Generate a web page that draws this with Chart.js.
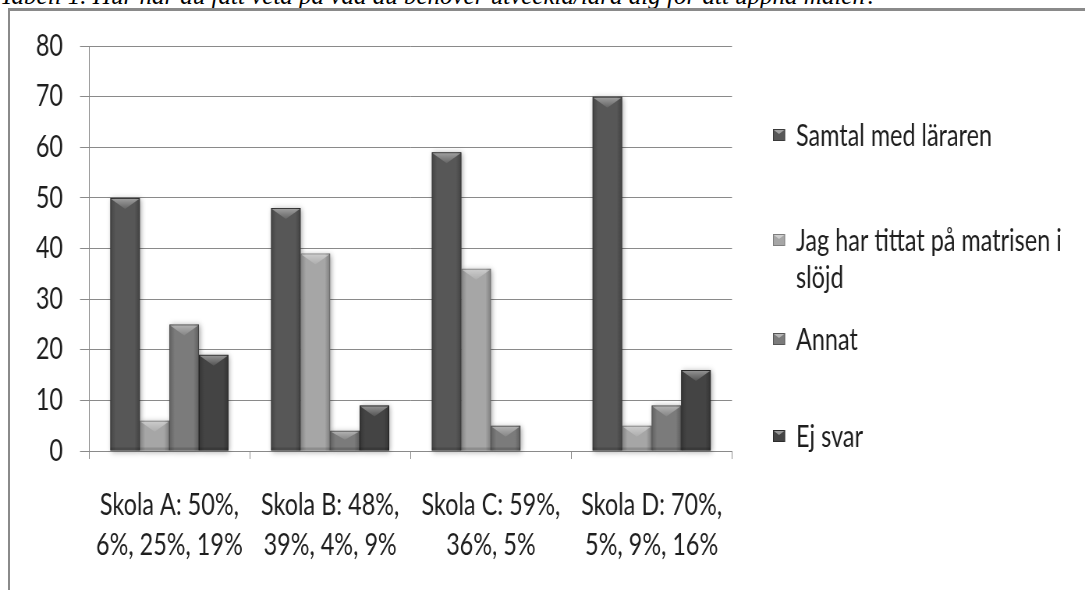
<!DOCTYPE html>
<html>
<head>
<meta charset="utf-8">
<script src="https://cdn.jsdelivr.net/npm/chart.js@4.4.1/dist/chart.umd.min.js"></script>
<style>
  html, body { margin: 0; padding: 0; background: #fff; overflow: hidden; }
  #wrap { position: relative; width: 1085px; height: 590px; overflow: hidden; background: #fff; }
  #caption {
    position: absolute; left: 0; top: -17px;
    font: italic 25px 'Liberation Serif', 'Times New Roman', serif;
    line-height: 25px; white-space: nowrap; color: #000;
  }
  #frame {
    position: absolute; left: 8px; top: 8px; width: 1200px; height: 700px;
    border-top: 3px solid #8a8a8a; border-left: 2px solid #8a8a8a;
  }
  /* the chart is drawn wide and squeezed horizontally, giving the tall narrow lettering */
  #stage { position: absolute; left: 0; top: 0; transform-origin: 0 0; }
  #c { display: block; }
</style>
</head>
<body>
<div id="wrap">
  <div id="caption">Tabell 1. Hur har du fått veta på vad du behöver utveckla/lära dig för att uppnå målen?</div>
  <div id="frame"></div>
  <div id="stage"><canvas id="c"></canvas></div>
</div>
<script>
// Category (tick) labels, one per school
const schoolLabels = [
  ['Skola A: 50%,', '6%, 25%, 19%'],
  ['Skola B: 48%,', '39%, 4%, 9%'],
  ['Skola C: 59%,', '36%, 5%'],
  ['Skola D: 70%,', '5%, 9%, 16%']
];

// Answer series (percent per school)
const seriesNames = ['Samtal med läraren', 'Jag har tittat på matrisen i slöjd', 'Annat', 'Ej svar'];
const samtalMedLararen = [50, 48, 59, 70];
const tittatPaMatrisen = [6, 39, 36, 5];
const annat = [25, 4, 5, 9];
const ejSvar = [19, 9, null, 16];

// Value axis ticks
const yTicks = [0, 10, 20, 30, 40, 50, 60, 70, 80];

// Horizontal squeeze applied to the whole chart canvas
const SX = 0.78;
const W = Math.round(1085 / SX), H = 590;
const ux = v => v / SX;   // screen px -> canvas px (horizontal)

const canvas = document.getElementById('c');
canvas.width = W; canvas.height = H;
canvas.style.width = W + 'px'; canvas.style.height = H + 'px';
document.getElementById('stage').style.transform = 'scaleX(' + (1085 / W) + ')';

const FONT = "Lato, 'Open Sans', 'Liberation Sans', sans-serif";
const fills = ['#575757', '#a6a6a6', '#7b7b7b', '#444444'];
const edges = ['#3a3a3a', '#7e7e7e', '#565656', '#2c2c2c'];

const seriesValues = [samtalMedLararen, tittatPaMatrisen, annat, ejSvar];

// Soft shadow behind each bar
const barShadow = {
  id: 'barShadow',
  beforeDatasetsDraw(chart) {
    const ctx = chart.ctx;
    chart.data.datasets.forEach((ds, i) => {
      const meta = chart.getDatasetMeta(i);
      meta.data.forEach((bar, j) => {
        if (ds.data[j] == null) return;
        const p = bar.getProps(['x', 'y', 'base', 'width'], true);
        ctx.save();
        ctx.shadowColor = 'rgba(0,0,0,0.35)';
        ctx.shadowBlur = 6;
        ctx.shadowOffsetX = 1.5;
        ctx.shadowOffsetY = 1;
        ctx.fillStyle = fills[i];
        ctx.fillRect(p.x - p.width / 2, p.y, p.width, p.base - p.y);
        ctx.restore();
      });
    });
  }
};

// Bevel shading on top of each bar
const barBevel = {
  id: 'barBevel',
  afterDatasetsDraw(chart) {
    const ctx = chart.ctx;
    chart.data.datasets.forEach((ds, i) => {
      const meta = chart.getDatasetMeta(i);
      meta.data.forEach((bar, j) => {
        if (ds.data[j] == null) return;
        const p = bar.getProps(['x', 'y', 'base', 'width'], true);
        const L = p.x - p.width / 2, R = p.x + p.width / 2, T = p.y, B = p.base;
        const w = R - L, hgt = B - T;
        ctx.save();
        // darker vertical edges
        const g = ctx.createLinearGradient(L, 0, R, 0);
        g.addColorStop(0, 'rgba(0,0,0,0.22)');
        g.addColorStop(0.18, 'rgba(0,0,0,0)');
        g.addColorStop(0.82, 'rgba(0,0,0,0)');
        g.addColorStop(1, 'rgba(0,0,0,0.25)');
        ctx.fillStyle = g;
        ctx.fillRect(L, T, w, hgt);
        // lighter chevron at the top
        const h = Math.min(11, hgt * 0.45);
        const tg = ctx.createLinearGradient(0, T, 0, T + h);
        tg.addColorStop(0, 'rgba(255,255,255,0.45)');
        tg.addColorStop(1, 'rgba(255,255,255,0.08)');
        ctx.fillStyle = tg;
        ctx.beginPath();
        ctx.moveTo(L + 1, T + 1);
        ctx.lineTo(R - 1, T + 1);
        ctx.lineTo(p.x, T + h);
        ctx.closePath();
        ctx.fill();
        // bottom shade
        ctx.fillStyle = 'rgba(0,0,0,0.15)';
        ctx.fillRect(L, B - 3, w, 3);
        ctx.restore();
      });
    });
  }
};

// Legend drawn to the right of the plot
const sideLegend = {
  id: 'sideLegend',
  afterDraw(chart) {
    const ctx = chart.ctx;
    const markerX = ux(773), markerW = ux(12), textX = ux(796), maxW = ux(288), lineH = 37;
    const rows = [135, 240, 339, 436];
    ctx.save();
    ctx.font = '30px ' + FONT;
    ctx.textBaseline = 'middle';
    chart.data.datasets.forEach((ds, i) => {
      const y = rows[i];
      // marker
      ctx.fillStyle = fills[i];
      ctx.fillRect(markerX, y - 6, markerW, 12);
      ctx.fillStyle = 'rgba(255,255,255,0.45)';
      ctx.beginPath();
      ctx.moveTo(markerX + 1, y - 5);
      ctx.lineTo(markerX + markerW - 1, y - 5);
      ctx.lineTo(markerX + markerW / 2, y - 1);
      ctx.closePath();
      ctx.fill();
      ctx.strokeStyle = edges[i];
      ctx.lineWidth = 1;
      ctx.strokeRect(markerX + 0.5, y - 5.5, markerW - 1, 11);
      // wrapped text
      const words = ds.label.split(' ');
      const lines = [];
      let cur = '';
      words.forEach(wd => {
        const t = cur ? cur + ' ' + wd : wd;
        if (ctx.measureText(t).width > maxW && cur) { lines.push(cur); cur = wd; }
        else cur = t;
      });
      lines.push(cur);
      ctx.fillStyle = '#1e1e1e';
      lines.forEach((ln, k) => ctx.fillText(ln, textX, y + 1 + k * lineH));
    });
    ctx.restore();
  }
};

new Chart(canvas, {
  type: 'bar',
  data: {
    labels: schoolLabels,
    datasets: seriesNames.map((name, i) => ({
      label: name,
      data: seriesValues[i],
      backgroundColor: fills[i],
      borderColor: edges[i],
      borderWidth: 1,
      categoryPercentage: 0.735,
      barPercentage: 1.0
    }))
  },
  options: {
    responsive: false,
    animation: false,
    devicePixelRatio: 1,
    layout: { padding: { top: 46, right: W - ux(732), bottom: 0, left: 0 } },
    plugins: { legend: { display: false }, tooltip: { enabled: false } },
    scales: {
      x: {
        ticks: { padding: 26, color: '#1e1e1e', font: { size: 30, family: FONT, lineHeight: 1.33 }, maxRotation: 0, autoSkip: false },
        grid: { display: true, drawOnChartArea: false, drawTicks: true, tickLength: 8, color: '#8a8a8a', offset: true },
        border: { display: true, color: '#8a8a8a', width: 1 },
        afterFit(s) { s.height = 139; }
      },
      y: {
        min: yTicks[0],
        max: yTicks[yTicks.length - 1],
        afterBuildTicks(s) { s.ticks = yTicks.map(v => ({ value: v })); },
        ticks: { padding: ux(17), color: '#1e1e1e', font: { size: 30, family: FONT } },
        grid: { color: '#8a8a8a', lineWidth: 1, tickLength: ux(9), drawTicks: true },
        border: { display: true, color: '#8a8a8a', width: 1 },
        afterFit(s) { s.width = ux(89); }
      }
    }
  },
  plugins: [barShadow, barBevel, sideLegend]
});
</script>
</body>
</html>
